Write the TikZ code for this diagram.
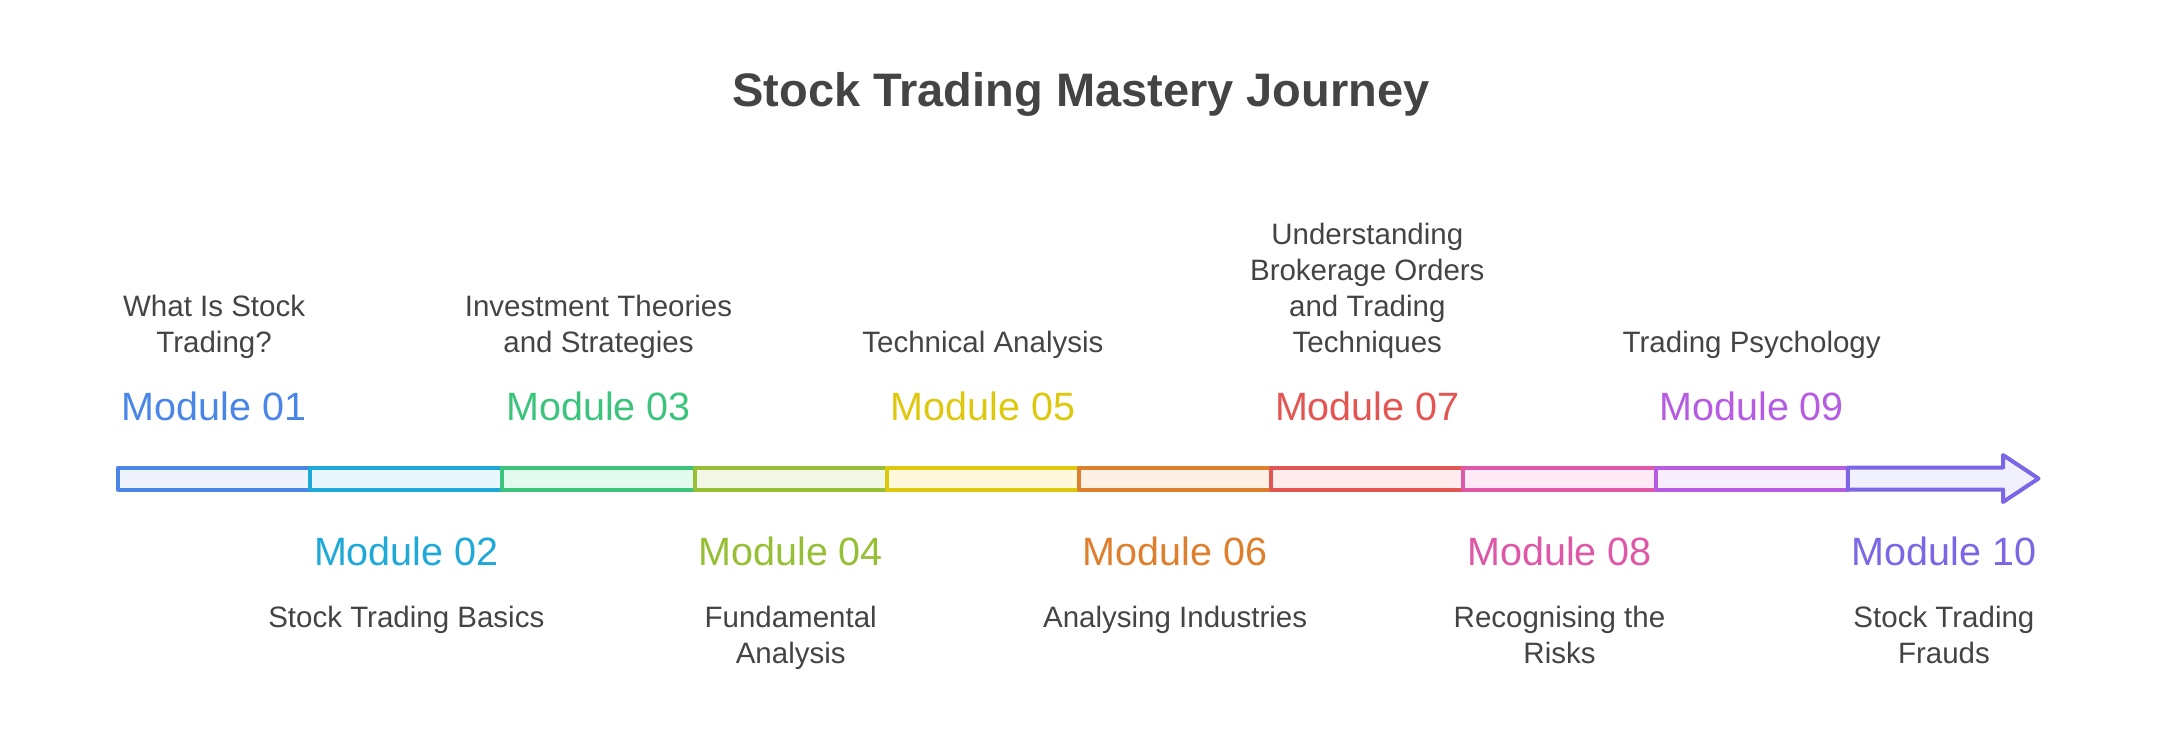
\documentclass[tikz,border=0pt]{standalone}
\usepackage{fontspec}
\setmainfont{Liberation Sans}
\definecolor{txt}{HTML}{444444}
\definecolor{cA}{HTML}{4A86E8}\definecolor{fA}{HTML}{EEF3FC}
\definecolor{cB}{HTML}{1EA9D8}\definecolor{fB}{HTML}{E8F7FD}
\definecolor{cC}{HTML}{3CC37C}\definecolor{fC}{HTML}{E3FBEE}
\definecolor{cD}{HTML}{96BF35}\definecolor{fD}{HTML}{F2F8E5}
\definecolor{cE}{HTML}{DEC80E}\definecolor{fE}{HTML}{FEF9DA}
\definecolor{cF}{HTML}{DE7F2D}\definecolor{fF}{HTML}{FEF0E3}
\definecolor{cG}{HTML}{E35552}\definecolor{fG}{HTML}{FEECEC}
\definecolor{cH}{HTML}{DE58A7}\definecolor{fH}{HTML}{FDEAF5}
\definecolor{cI}{HTML}{B65CE3}\definecolor{fI}{HTML}{F9EEFD}
\definecolor{cJ}{HTML}{7C66E6}\definecolor{fJ}{HTML}{F1F0FE}
\begin{document}
\begin{tikzpicture}[x=1pt,y=-1pt,
  segbox/.style={line width=4pt, line join=round},
  modlab/.style={font=\fontsize{39.5}{47}\selectfont, anchor=base, inner sep=0pt},
  desc/.style={font=\fontsize{29.5}{36}\selectfont, text=txt, anchor=base, inner sep=0pt},
  titlelab/.style={font=\fontsize{47}{56}\selectfont\bfseries, text=txt, anchor=base, inner sep=0pt}]
\useasboundingbox (0,0) rectangle (2160,732);
% title
\node[titlelab] (title) at (1081,106.7) {Stock Trading Mastery Journey};
% bar segments
\draw[segbox, draw=cA, fill=fA] (118,467.5) rectangle (310.2,489.5);
\draw[segbox, draw=cB, fill=fB] (310.2,467.5) rectangle (502.4,489.5);
\draw[segbox, draw=cC, fill=fC] (502.4,467.5) rectangle (694.6,489.5);
\draw[segbox, draw=cD, fill=fD] (694.6,467.5) rectangle (886.8,489.5);
\draw[segbox, draw=cE, fill=fE] (886.8,467.5) rectangle (1079,489.5);
\draw[segbox, draw=cF, fill=fF] (1079,467.5) rectangle (1271.2,489.5);
\draw[segbox, draw=cG, fill=fG] (1271.2,467.5) rectangle (1463.4,489.5);
\draw[segbox, draw=cH, fill=fH] (1463.4,467.5) rectangle (1655.6,489.5);
\draw[segbox, draw=cI, fill=fI] (1655.6,467.5) rectangle (1847.8,489.5);
\draw[segbox, draw=cJ, fill=fJ] (1847.8,467.5) -- (2003,467.5) -- (2003,455) -- (2038.5,478.5)
  -- (2003,502) -- (2003,489.5) -- (1847.8,489.5) -- cycle;
% module labels
\node[modlab, text=cA] (m1) at (214.1,420) {Module 01};
\node[modlab, text=cB] (m2) at (406.3,565) {Module 02};
\node[modlab, text=cC] (m3) at (598.5,420) {Module 03};
\node[modlab, text=cD] (m4) at (790.7,565) {Module 04};
\node[modlab, text=cE] (m5) at (982.9,420) {Module 05};
\node[modlab, text=cF] (m6) at (1175.1,565) {Module 06};
\node[modlab, text=cG] (m7) at (1367.3,420) {Module 07};
\node[modlab, text=cH] (m8) at (1559.5,565) {Module 08};
\node[modlab, text=cI] (m9) at (1751.7,420) {Module 09};
\node[modlab, text=cJ] (m10) at (1943.9,565) {Module 10};
% descriptions above
\node[desc] (d1) at (214.1,352) {\begin{tabular}[b]{@{}c@{}}What Is Stock\\Trading?\end{tabular}};
\node[desc] (d3) at (598.5,352) {\begin{tabular}[b]{@{}c@{}}Investment Theories\\and Strategies\end{tabular}};
\node[desc] (d5) at (982.9,352) {Technical Analysis};
\node[desc] (d7) at (1367.3,352) {\begin{tabular}[b]{@{}c@{}}Understanding\\Brokerage Orders\\and Trading\\Techniques\end{tabular}};
\node[desc] (d9) at (1751.7,352) {Trading Psychology};
% descriptions below
\node[desc] (d2) at (406.3,627) {Stock Trading Basics};
\node[desc] (d4) at (790.7,627) {\begin{tabular}[t]{@{}c@{}}Fundamental\\Analysis\end{tabular}};
\node[desc] (d6) at (1175.1,627) {Analysing Industries};
\node[desc] (d8) at (1559.5,627) {\begin{tabular}[t]{@{}c@{}}Recognising the\\Risks\end{tabular}};
\node[desc] (d10) at (1943.9,627) {\begin{tabular}[t]{@{}c@{}}Stock Trading\\Frauds\end{tabular}};
\end{tikzpicture}
\end{document}
